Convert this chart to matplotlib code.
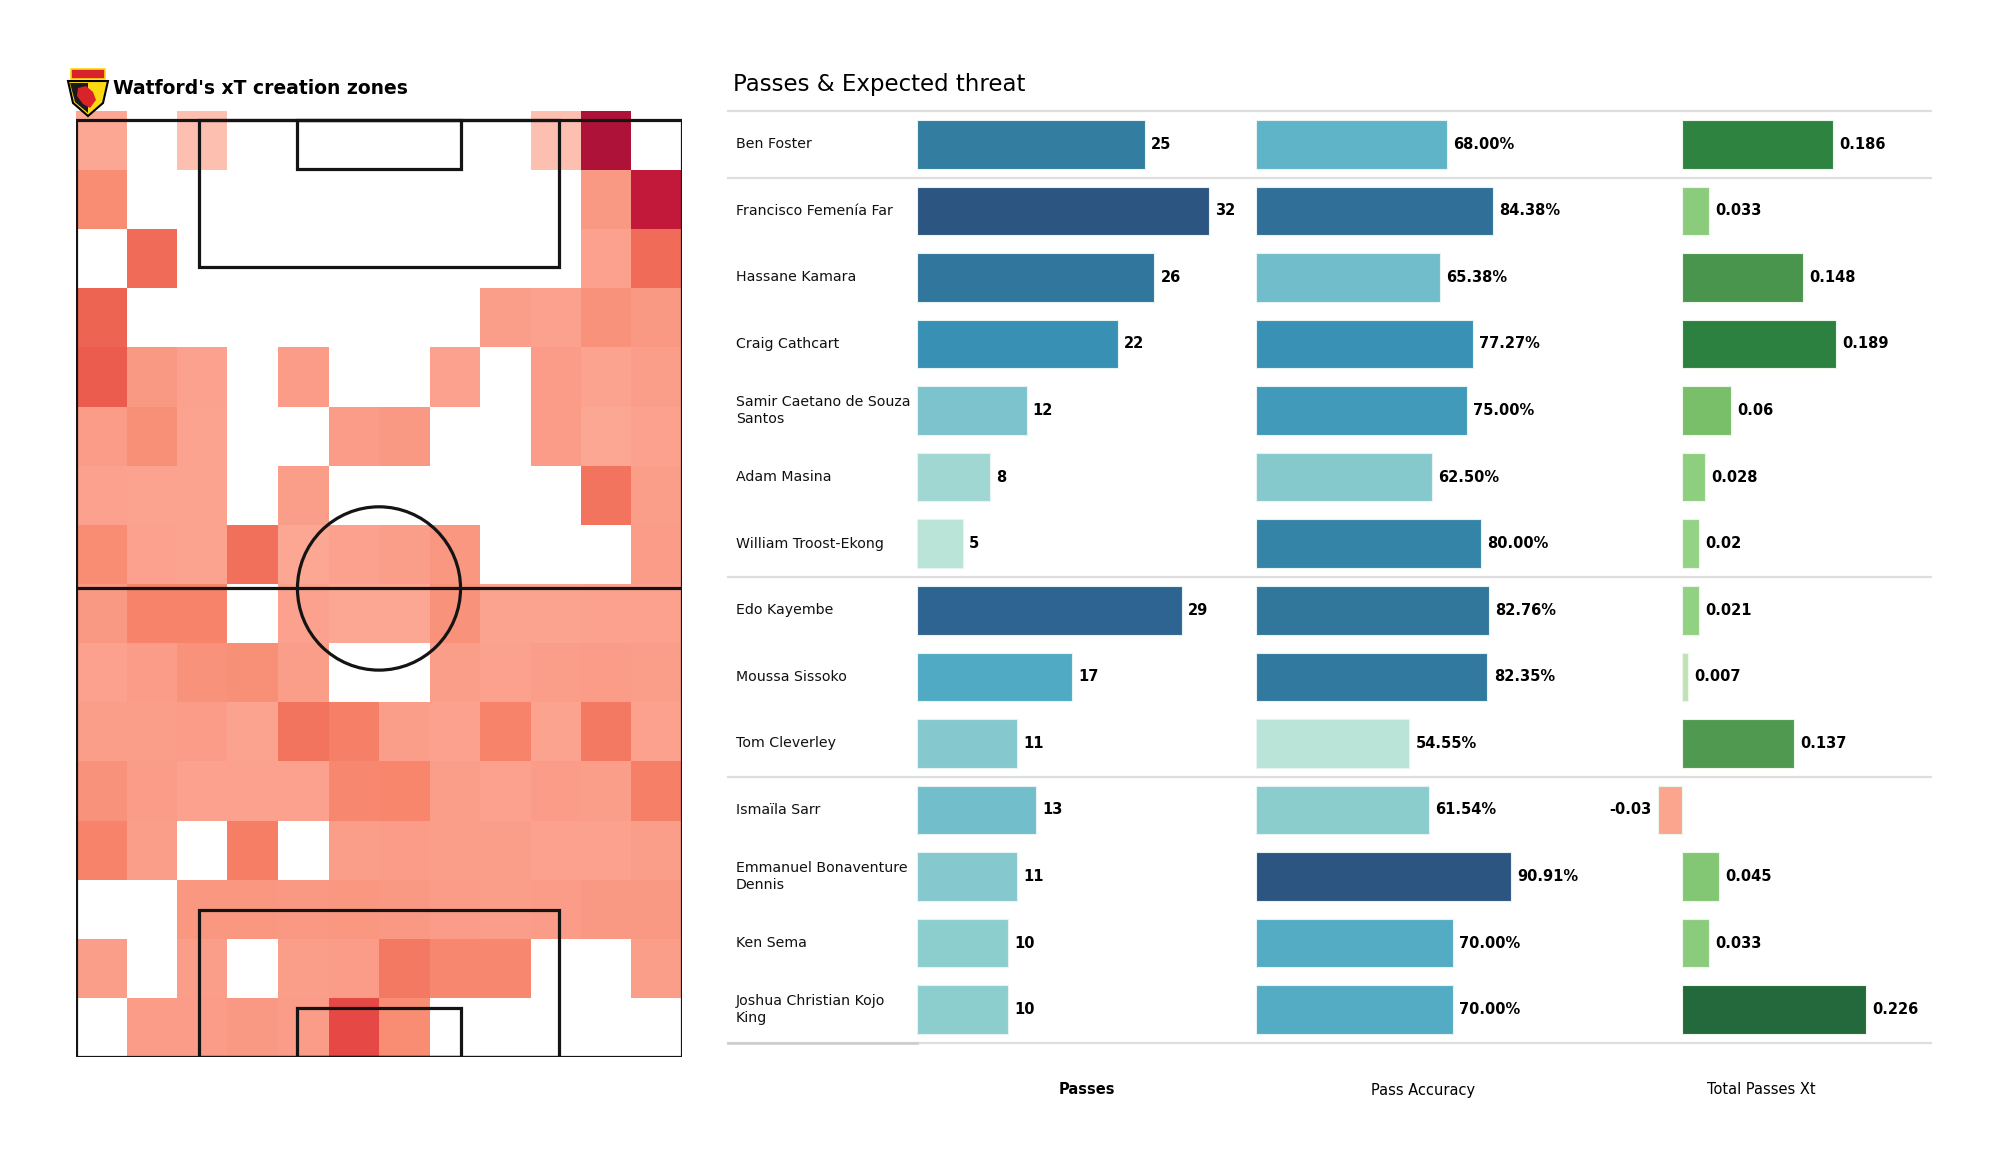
import numpy as np
import matplotlib
matplotlib.use('Agg')
import matplotlib.pyplot as plt
from matplotlib.colors import LinearSegmentedColormap, Normalize
from matplotlib.patches import Rectangle, Circle, Polygon

# ---- data -------------------------------------------------------------
# xT creation per zone (relative units), 16 rows x 12 cols, top row = opponent goal end
# 0 = no value (left blank)
xt_grid = [
    [1.0, 0, 0.5, 0, 0, 0, 0, 0, 0, 0.5, 10, 0],
    [2.0, 0, 0, 0, 0, 0, 0, 0, 0, 0, 1.5, 8.5],
    [0, 3.5, 0, 0, 0, 0, 0, 0, 0, 0, 1.2, 3.5],
    [4.0, 0, 0, 0, 0, 0, 0, 0, 1.3, 1.2, 1.8, 1.5],
    [4.3, 1.5, 1.2, 0, 1.4, 0, 0, 1.2, 0, 1.4, 1.1, 1.3],
    [1.4, 1.9, 1.1, 0, 0, 1.4, 1.5, 0, 0, 1.4, 1.0, 1.2],
    [1.2, 1.1, 1.1, 0, 1.3, 0, 0, 0, 0, 0, 3.0, 1.3],
    [2.0, 1.2, 1.1, 3.2, 1.0, 1.2, 1.3, 1.6, 0, 0, 0, 1.4],
    [1.5, 2.4, 2.4, 0, 1.2, 1.0, 1.0, 1.8, 1.1, 1.1, 1.2, 1.2],
    [1.2, 1.4, 1.8, 1.9, 1.3, 0, 0, 1.3, 1.2, 1.3, 1.4, 1.3],
    [1.3, 1.3, 1.4, 1.1, 3.0, 2.5, 1.3, 1.2, 2.4, 1.1, 2.8, 1.2],
    [1.8, 1.4, 1.2, 1.2, 1.2, 2.2, 2.3, 1.3, 1.2, 1.4, 1.3, 2.5],
    [2.4, 1.3, 0, 2.6, 0, 1.3, 1.4, 1.3, 1.3, 1.2, 1.2, 1.3],
    [0, 0, 1.6, 1.6, 1.5, 1.6, 1.5, 1.4, 1.3, 1.4, 1.5, 1.5],
    [1.3, 0, 1.3, 0, 1.3, 1.4, 2.8, 2.2, 2.2, 0, 0, 1.3],
    [0, 1.4, 1.4, 1.5, 1.4, 5.0, 2.0, 0, 0, 0, 0, 0],
]

players = ['Ben Foster', 'Francisco Femenía Far', 'Hassane Kamara', 'Craig Cathcart',
           'Samir Caetano de Souza\nSantos', 'Adam Masina', 'William Troost-Ekong',
           'Edo Kayembe', 'Moussa Sissoko', 'Tom Cleverley',
           'Ismaïla Sarr', 'Emmanuel Bonaventure\nDennis', 'Ken Sema',
           'Joshua Christian Kojo\nKing']
passes = [25, 32, 26, 22, 12, 8, 5, 29, 17, 11, 13, 11, 10, 10]
pass_acc = [68.00, 84.38, 65.38, 77.27, 75.00, 62.50, 80.00, 82.76, 82.35, 54.55,
            61.54, 90.91, 70.00, 70.00]
passes_xt = [0.186, 0.033, 0.148, 0.189, 0.06, 0.028, 0.02, 0.021, 0.007, 0.137,
             -0.03, 0.045, 0.033, 0.226]
group_breaks = [0.5, 6.5, 9.5]   # GK | DEF | MID | FWD

W, H = 2000, 1175
fig = plt.figure(figsize=(20, 11.75), dpi=100)


def fig_rect(x0, y0, x1, y1):  # pixel box (top-left origin) -> figure fraction
    return [x0 / W, 1 - y1 / H, (x1 - x0) / W, (y1 - y0) / H]


def rgb(*c):
    return tuple(v / 255 for v in c)


# ---- pitch heatmap ----------------------------------------------------
heat_cmap = LinearSegmentedColormap.from_list('xt', [
    (0.00, rgb(253, 205, 192)), (0.05, rgb(252, 190, 175)), (0.10, rgb(251, 166, 146)),
    (0.15, rgb(250, 153, 131)), (0.20, rgb(248, 141, 116)), (0.25, rgb(246, 128, 103)),
    (0.30, rgb(242, 115, 94)), (0.40, rgb(238, 100, 82)), (0.50, rgb(230, 72, 70)),
    (0.85, rgb(194, 24, 57)), (1.00, rgb(174, 18, 56))])

ax = fig.add_axes(fig_rect(76, 111, 682, 1057))
grid = np.flipud(np.array(xt_grid, dtype=float))
grid = np.ma.masked_where(grid == 0, grid)
xe = np.linspace(0, 68, 13)
ye = np.linspace(0, 106, 17)
ax.pcolormesh(xe, ye, grid, cmap=heat_cmap, norm=Normalize(0, 10), zorder=1)

lc = '#141414'
lw = 2.3
ax.add_patch(Rectangle((0, 0), 68, 105, fill=False, ec=lc, lw=lw, zorder=3))
ax.plot([0, 68], [52.5, 52.5], color=lc, lw=lw, zorder=3)
ax.add_patch(Circle((34, 52.5), 9.15, fill=False, ec=lc, lw=lw, zorder=3))
for y0, d in [(0, 1), (105, -1)]:
    ax.add_patch(Rectangle((13.84, y0), 40.32, 16.5 * d, fill=False, ec=lc, lw=lw, zorder=3))
    ax.add_patch(Rectangle((24.84, y0), 18.32, 5.5 * d, fill=False, ec=lc, lw=lw, zorder=3))
ax.set_xlim(0, 68)
ax.set_ylim(0, 106)
ax.axis('off')

# badge
lax = fig.add_axes(fig_rect(66, 66, 110, 118))
lax.set_xlim(0, 44)
lax.set_ylim(52, 0)
lax.axis('off')
lax.add_patch(Polygon([(2, 15), (42, 15), (37, 37), (22, 50), (7, 37)], closed=True,
                      fc='#fbd912', ec='black', lw=1.5))
lax.add_patch(Polygon([(4, 17), (22, 17), (22, 47), (9, 36)], closed=True, fc='#1a1a1a'))
lax.add_patch(Polygon([(12, 22), (20, 20), (27, 26), (30, 34), (24, 42), (17, 38), (11, 30)],
                      closed=True, fc='#d8232a'))
lax.add_patch(Rectangle((5, 3), 34, 10, fc='#d8232a', ec='#fbd912', lw=1.2))

fig.text(113 / W, 1 - 88 / H, "Watford's xT creation zones", fontsize=13.5,
         fontweight='bold', va='center', ha='left')

# ---- table of bars ----------------------------------------------------
pass_cmap = LinearSegmentedColormap.from_list('passes', [
    (0.00, rgb(185, 228, 215)), (0.11, rgb(160, 215, 210)), (0.185, rgb(140, 205, 205)),
    (0.26, rgb(125, 195, 205)), (0.30, rgb(112, 189, 203)), (0.44, rgb(80, 170, 195)),
    (0.63, rgb(56, 145, 180)), (0.74, rgb(50, 125, 160)), (0.89, rgb(45, 100, 145)),
    (1.00, rgb(44, 85, 130))])
xt_cmap = LinearSegmentedColormap.from_list('xtbar', [
    (0.00, rgb(205, 232, 195)), (0.03, rgb(190, 225, 180)), (0.09, rgb(145, 210, 130)),
    (0.15, rgb(138, 204, 123)), (0.27, rgb(120, 190, 105)), (0.60, rgb(80, 155, 80)),
    (0.66, rgb(72, 148, 78)), (0.83, rgb(45, 130, 65)), (1.00, rgb(35, 105, 60))])

rows = np.arange(len(players))
top_px, bot_px = 111, 1043

bg = fig.add_axes(fig_rect(728, top_px, 1931, bot_px))
bg.set_xlim(0, 1)
bg.set_ylim(13.5, -0.5)
bg.axis('off')
for yb in [-0.5] + group_breaks + [13.5]:
    bg.axhline(yb, color='#dedede', lw=1.6, clip_on=False, zorder=0)
bg.plot([0, (917 - 728) / (1931 - 728)], [13.5, 13.5], color='#cccccc', lw=1.8,
        clip_on=False, zorder=1)
for r, name in zip(rows, players):
    bg.text(0.0066, r, name, fontsize=10.2, va='center', ha='left', color='#111111',
            linespacing=1.25)

ax_p = fig.add_axes(fig_rect(917, top_px, 917 + 365, bot_px))
ax_p.set_xlim(0, 40)
ax_a = fig.add_axes(fig_rect(1256, top_px, 1256 + 281, bot_px))
ax_a.set_xlim(0, 100)
ax_x = fig.add_axes(fig_rect(1601, top_px, 1926, bot_px))
ax_x.set_xlim(-0.1, 0.3)
for a in (ax_p, ax_a, ax_x):
    a.set_ylim(13.5, -0.5)
    a.axis('off')

bh = 0.73
vfs = 10.5
p_norm = Normalize(min(passes), max(passes))
ax_p.barh(rows, passes, height=bh, color=pass_cmap(p_norm(passes)), ec='#e6f3f2', lw=0.8)
for r, v in zip(rows, passes):
    ax_p.annotate(f'{v}', (v, r), xytext=(4.5, 0), textcoords='offset points',
                  va='center', ha='left', fontsize=vfs, fontweight='bold')

a_norm = Normalize(min(pass_acc), max(pass_acc))
ax_a.barh(rows, pass_acc, height=bh, color=pass_cmap(a_norm(pass_acc)), ec='#e6f3f2', lw=0.8)
for r, v in zip(rows, pass_acc):
    ax_a.annotate(f'{v:.2f}%', (v, r), xytext=(4.5, 0), textcoords='offset points',
                  va='center', ha='left', fontsize=vfs, fontweight='bold')

x_norm = Normalize(0, max(passes_xt))
xt_cols = [xt_cmap(x_norm(v)) if v >= 0 else rgb(252, 165, 142) for v in passes_xt]
ax_x.barh(rows, passes_xt, height=bh, color=xt_cols, ec='#eef6ec', lw=0.8)
for r, v in zip(rows, passes_xt):
    if v >= 0:
        ax_x.annotate(f'{v:g}', (v, r), xytext=(4.5, 0), textcoords='offset points',
                      va='center', ha='left', fontsize=vfs, fontweight='bold')
    else:
        ax_x.annotate(f'{v:g}', (v, r), xytext=(-4.5, 0), textcoords='offset points',
                      va='center', ha='right', fontsize=vfs, fontweight='bold')

fig.text(733 / W, 1 - 85 / H, 'Passes & Expected threat', fontsize=16.5, va='center', ha='left')
fig.text(1087 / W, 1 - 1090 / H, 'Passes', fontsize=10.5, fontweight='bold', ha='center', va='center')
fig.text(1423 / W, 1 - 1090 / H, 'Pass Accuracy', fontsize=10.5, ha='center', va='center')
fig.text(1761 / W, 1 - 1090 / H, 'Total Passes Xt', fontsize=10.5, ha='center', va='center')

fig.savefig('out.png', dpi=100, facecolor='white')
